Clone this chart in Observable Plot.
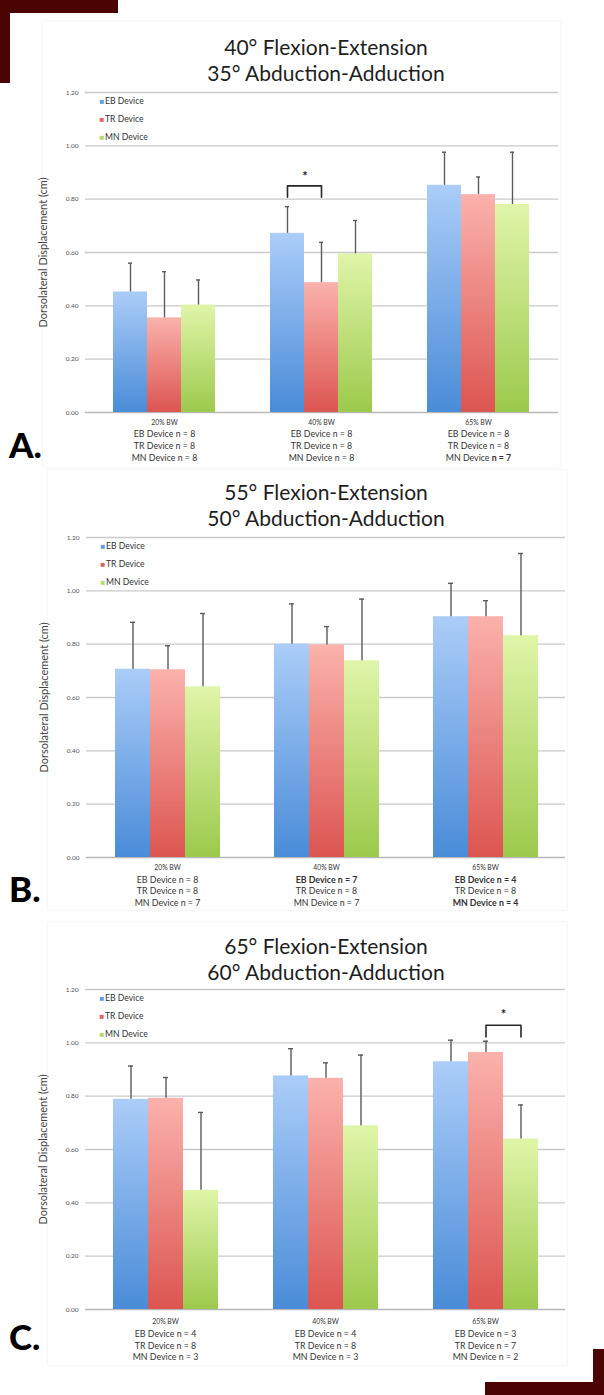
<!DOCTYPE html>
<html>
<head>
<meta charset="utf-8">
<script src="https://cdn.jsdelivr.net/npm/d3@7"></script>
<script src="https://cdn.jsdelivr.net/npm/@observablehq/plot@0.6"></script>
<style>
  html, body { margin: 0; padding: 0; background: #fff; }
  body { width: 604px; height: 1395px; position: relative; overflow: hidden; font-family: Lato, "Open Sans", sans-serif; }
  .deco { position: absolute; background: #4b0303; }
  .card { position: absolute; background: #fff; box-shadow: 0 0 2px rgba(0,0,0,0.10); }
  .title { position: absolute; left: 0; width: 652px; text-align: center; font-size: 21px; line-height: 21px; height: 21px; color: #1e1e1e; white-space: nowrap; }
  .letter { position: absolute; left: 9px; font-size: 35px; line-height: 35px; font-weight: 900; color: #000; }
  .plotwrap { position: absolute; left: 0; width: 604px; height: 383px; }
  .plotwrap > svg { position: absolute; left: 0; top: 0; }
  svg text { font-family: Lato, "Open Sans", sans-serif; }
</style>
</head>
<body>
<svg width="0" height="0" style="position:absolute">
  <defs>
    <linearGradient id="gradEB" x1="0" y1="0" x2="0" y2="1">
      <stop offset="0" stop-color="#abcdf8"/><stop offset="1" stop-color="#4a8cd8"/>
    </linearGradient>
    <linearGradient id="gradTR" x1="0" y1="0" x2="0" y2="1">
      <stop offset="0" stop-color="#fbb2ac"/><stop offset="1" stop-color="#dc5551"/>
    </linearGradient>
    <linearGradient id="gradMN" x1="0" y1="0" x2="0" y2="1">
      <stop offset="0" stop-color="#e0f5a9"/><stop offset="1" stop-color="#9cca4c"/>
    </linearGradient>
  </defs>
</svg>
<div class="deco" style="left:0;top:0;width:118px;height:13px"></div>
<div class="deco" style="left:0;top:0;width:10px;height:83px"></div>
<div class="deco" style="left:485px;top:1382px;width:119px;height:13px"></div>
<div class="deco" style="left:593px;top:1349px;width:11px;height:46px"></div>
<script>
// ---------- data ----------
const groups = ["20% BW", "40% BW", "65% BW"];
const devices = ["EB Device", "TR Device", "MN Device"];
const yTicks = [0, 0.2, 0.4, 0.6, 0.8, 1.0, 1.2];
const yLabel = "Dorsolateral Displacement (cm)";

// Panel A
const titlesA = ["40° Flexion-Extension", "35° Abduction-Adduction"];
const meansA = [[0.452, 0.355, 0.403], [0.672, 0.487, 0.595], [0.852, 0.817, 0.780]];
const sdA    = [[0.108, 0.173, 0.094], [0.100, 0.151, 0.125], [0.124, 0.066, 0.196]];
const nA     = [[8, 8, 8], [8, 8, 8], [8, 8, 7]];
const boldA  = [[0, 0, 0], [0, 0, 0], [0, 0, 2]]; // 0 normal, 1 whole line bold, 2 count bold
const sigA   = [{group: "40% BW", from: "EB Device", to: "TR Device", y: 0.85, leg: 0.807, star: 0.884}];

// Panel B
const titlesB = ["55° Flexion-Extension", "50° Abduction-Adduction"];
const meansB = [[0.706, 0.704, 0.640], [0.800, 0.797, 0.738], [0.903, 0.903, 0.832]];
const sdB    = [[0.176, 0.090, 0.275], [0.151, 0.069, 0.231], [0.125, 0.060, 0.308]];
const nB     = [[8, 8, 7], [7, 8, 7], [4, 8, 4]];
const boldB  = [[0, 0, 0], [1, 0, 0], [1, 0, 1]];
const sigB   = [];

// Panel C
const titlesC = ["65° Flexion-Extension", "60° Abduction-Adduction"];
const meansC = [[0.788, 0.792, 0.447], [0.876, 0.867, 0.689], [0.929, 0.964, 0.639]];
const sdC    = [[0.125, 0.078, 0.292], [0.102, 0.058, 0.265], [0.081, 0.042, 0.128]];
const nC     = [[4, 8, 3], [4, 8, 3], [3, 7, 2]];
const boldC  = [[0, 0, 0], [0, 0, 0], [0, 0, 0]];
const sigC   = [{group: "65% BW", from: "TR Device", to: "MN Device", y: 1.066, leg: 1.022, star: 1.104}];

const panelLetters = ["A.", "B.", "C."];

// ---------- styles / layout ----------
const gradFill = {"EB Device": "url(#gradEB)", "TR Device": "url(#gradTR)", "MN Device": "url(#gradMN)"};
const legendColor = {"EB Device": "#5d9ce2", "TR Device": "#e2625e", "MN Device": "#b2d86e"};
const layout = [
  {card: [43, 21, 517, 446], titleY: [47, 73], svgTop: 82, mL: 85, mR: 46, letterY: 446, labelDy: [10.3, 21.5, 33.3, 45.3]},
  {card: [48, 470, 519, 440], titleY: [492, 518], svgTop: 527, mL: 86, mR: 39, letterY: 890, labelDy: [10.5, 22.5, 34, 45.5]},
  {card: [48, 922, 519, 443], titleY: [946, 972], svgTop: 979, mL: 85, mR: 39, letterY: 1338, labelDy: [12, 24.5, 36.3, 48]}
];

const panels = [
  {titles: titlesA, means: meansA, sd: sdA, n: nA, bold: boldA, sig: sigA},
  {titles: titlesB, means: meansB, sd: sdB, n: nB, bold: boldB, sig: sigB},
  {titles: titlesC, means: meansC, sd: sdC, n: nC, bold: boldC, sig: sigC}
];

const W = 604, H = 383, MT = 10, MB = 53;
const plotFont = "Lato, 'Open Sans', sans-serif";

function buildPanel(p, L, letter) {
  const card = document.createElement("div");
  card.className = "card";
  card.style.left = L.card[0] + "px"; card.style.top = L.card[1] + "px";
  card.style.width = L.card[2] + "px"; card.style.height = L.card[3] + "px";
  document.body.appendChild(card);

  p.titles.forEach((t, i) => {
    const d = document.createElement("div");
    d.className = "title";
    d.textContent = t;
    d.style.top = (L.titleY[i] - 11.5) + "px";
    document.body.appendChild(d);
  });

  const rows = groups.flatMap((g, gi) => devices.map((dv, di) => ({
    group: g, device: dv, mean: p.means[gi][di], sd: p.sd[gi][di]
  })));

  const labelRows = groups.flatMap((g, gi) => [
    {group: g, line: 0, text: g, bold: 0},
    ...devices.map((dv, di) => ({group: g, line: di + 1, text: `${dv} n = ${p.n[gi][di]}`, bold: p.bold[gi][di]}))
  ]);
  const partial = labelRows.filter(r => r.bold === 2);

  const bracketPts = p.sig.flatMap((s, k) => [
    {id: k, group: s.group, x: s.from, y: s.leg},
    {id: k, group: s.group, x: s.from, y: s.y},
    {id: k, group: s.group, x: s.to, y: s.y},
    {id: k, group: s.group, x: s.to, y: s.leg}
  ]);

  const common = {
    width: W, height: H, marginLeft: L.mL, marginRight: L.mR, marginTop: MT, marginBottom: MB,
    style: {fontFamily: plotFont, fontSize: "6.5px", color: "#555", background: "transparent", overflow: "visible"}
  };

  // base layer: gridlines, y axis, legend, y title (no facets)
  const base = Plot.plot({
    ...common,
    y: {domain: [0, 1.2], ticks: yTicks, tickFormat: d3.format(".2f"), tickSize: 0, tickPadding: 7, label: null},
    marks: [
      Plot.ruleY(yTicks.filter(t => t > 0), {stroke: "#cacaca", strokeWidth: 1.3}),
      Plot.ruleY([0], {stroke: "#b8b8b8", strokeWidth: 1.3}),
      ...devices.flatMap((dv, i) => [
        Plot.text([dv], {frameAnchor: "top-left", text: () => "■", dx: 14, dy: 8.5 + 18 * i, lineAnchor: "middle", fontSize: 8, fill: legendColor[dv]}),
        Plot.text([dv], {frameAnchor: "top-left", text: d => d, dx: 19.5, dy: 8.5 + 18 * i, lineAnchor: "middle", textAnchor: "start", fontSize: 8.6, fill: "#333"})
      ]),
      Plot.text([yLabel], {frameAnchor: "left", text: d => d, rotate: -90, dx: -42, lineAnchor: "middle", textAnchor: "middle", fontSize: 11, fill: "#444"})
    ]
  });

  // top layer: grouped bars (faceted by load), error bars, significance, category labels
  const errColor = "#5b5b5b";
  const top = Plot.plot({
    ...common,
    fx: {domain: groups, axis: null, paddingInner: 0.335, paddingOuter: 0.1675, label: null},
    x: {domain: devices, axis: null, padding: 0},
    y: {domain: [0, 1.2], axis: null},
    marks: [
      ...devices.map(dv => Plot.barY(rows.filter(r => r.device === dv), {fx: "group", x: "device", y: "mean", fill: gradFill[dv]})),
      Plot.ruleX(rows, {fx: "group", x: "device", y1: "mean", y2: r => r.mean + r.sd, stroke: errColor, strokeWidth: 1.4}),
      Plot.tickY(rows, {fx: "group", x: "device", y: r => r.mean + r.sd, stroke: errColor, strokeWidth: 1.4, insetLeft: 15, insetRight: 15}),
      Plot.line(bracketPts, {fx: "group", x: "x", y: "y", z: "id", stroke: "#262626", strokeWidth: 1.6}),
      Plot.text(p.sig, {fx: "group", x: "from", y: "star", text: () => "*", dx: 17.6, fontSize: 13, fontWeight: "bold", fill: "#262626"}),
      ...[0, 1, 2, 3].flatMap(li => [false, true].map(b => Plot.text(
        labelRows.filter(r => r.line === li && (r.bold === 1) === b),
        {fx: "group", text: "text", frameAnchor: "bottom", lineAnchor: "middle", dy: L.labelDy[li],
         fontSize: li === 0 ? 6.8 : 8.8, fontWeight: b ? "bold" : "normal", fill: "#333"})))
    ]
  });

  // render partially bold labels (only the count is bold)
  if (partial.length) {
    top.querySelectorAll("text").forEach(t => {
      const r = partial.find(q => q.text === t.textContent);
      if (r) {
        const idx = r.text.indexOf("n = ");
        const a = r.text.slice(0, idx), b = r.text.slice(idx);
        t.textContent = "";
        const s1 = document.createElementNS("http://www.w3.org/2000/svg", "tspan"); s1.textContent = a;
        const s2 = document.createElementNS("http://www.w3.org/2000/svg", "tspan"); s2.textContent = b; s2.setAttribute("font-weight", "bold");
        t.appendChild(s1); t.appendChild(s2);
      }
    });
  }

  const wrap = document.createElement("div");
  wrap.className = "plotwrap";
  wrap.style.top = L.svgTop + "px";
  wrap.appendChild(base);
  wrap.appendChild(top);
  document.body.appendChild(wrap);

  const le = document.createElement("div");
  le.className = "letter";
  le.textContent = letter;
  le.style.top = (L.letterY - 19) + "px";
  document.body.appendChild(le);
}

panels.forEach((p, i) => buildPanel(p, layout[i], panelLetters[i]));
</script>
</body>
</html>
